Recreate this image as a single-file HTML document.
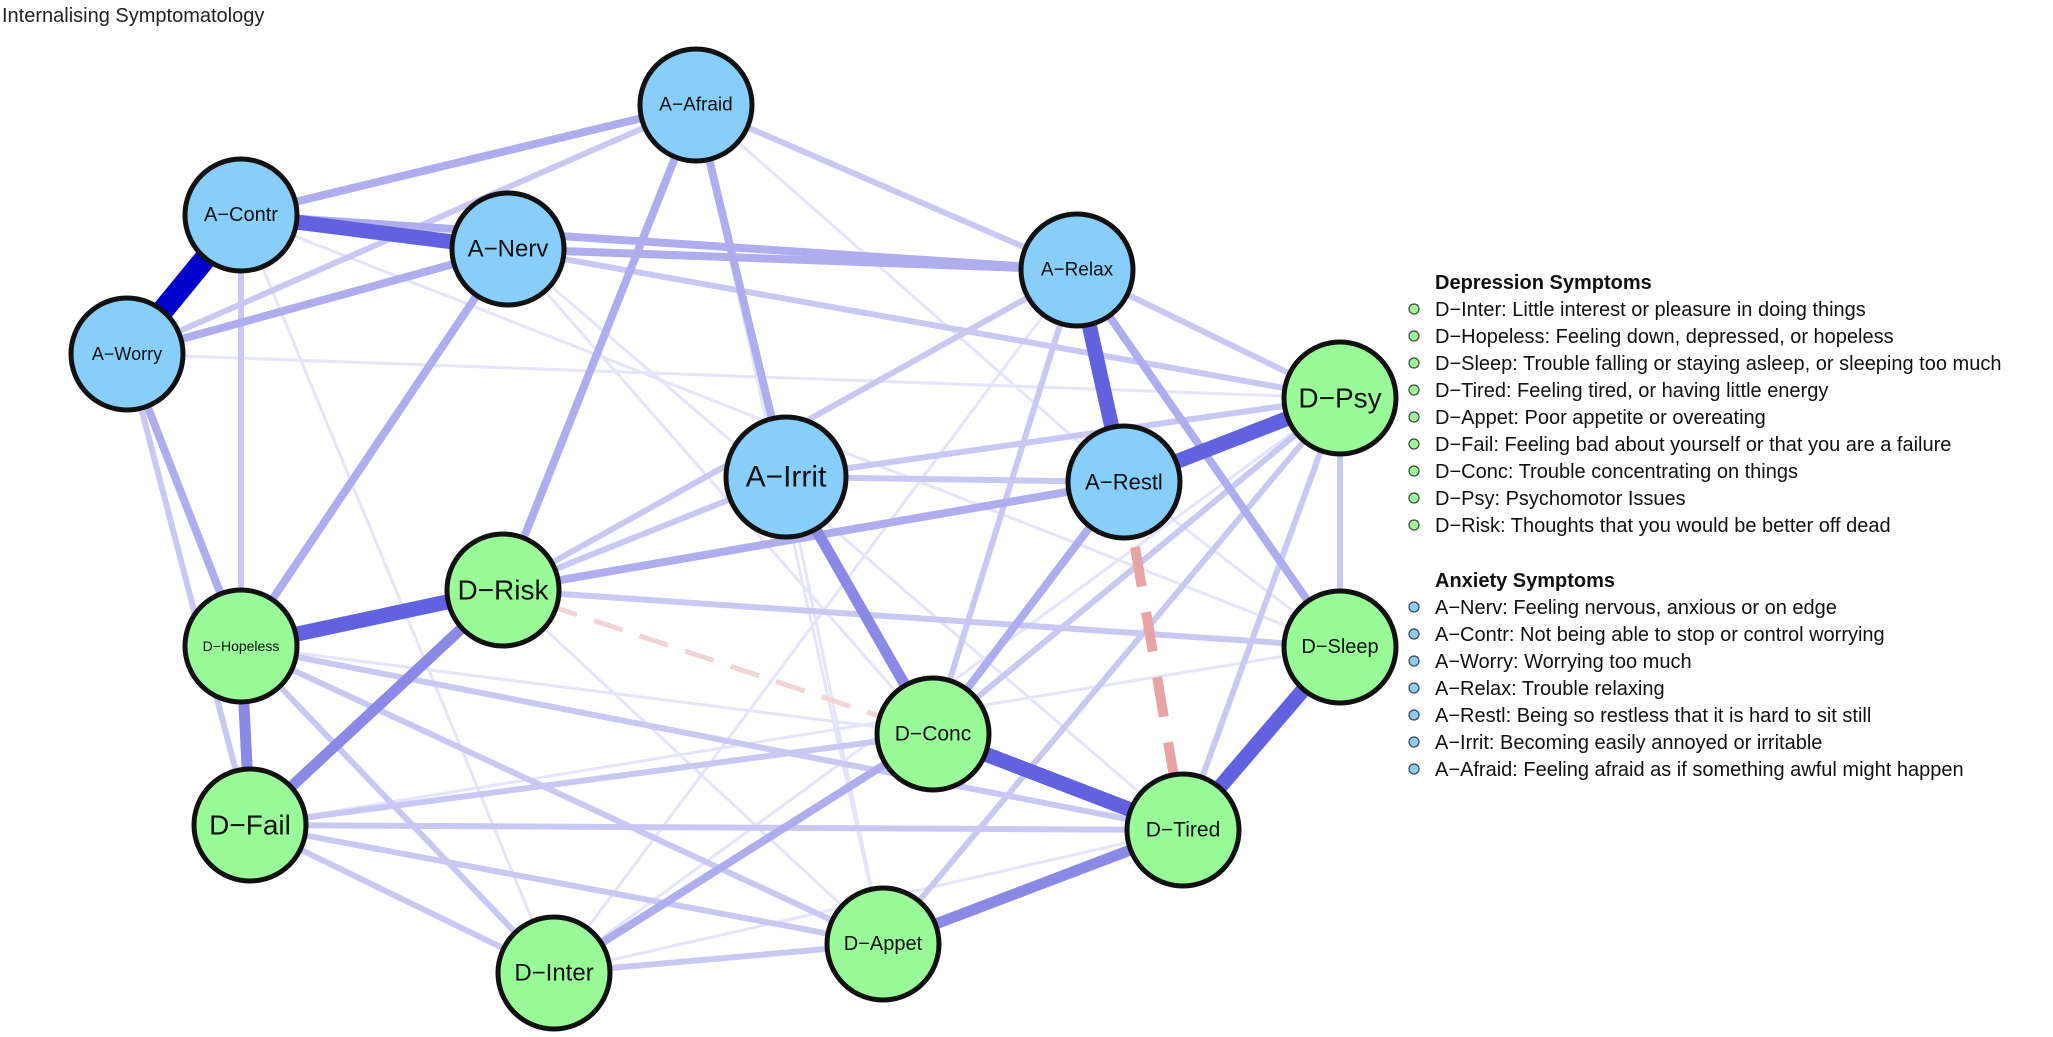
<!DOCTYPE html>
<html><head><meta charset="utf-8"><style>
body{margin:0;background:#fff;width:2053px;height:1032px;overflow:hidden}
svg text{font-family:"Liberation Sans",Arial,sans-serif}
</style></head><body>
<svg width="2053" height="1032" viewBox="0 0 2053 1032" xmlns="http://www.w3.org/2000/svg">
<text x="2" y="22" font-size="20" fill="#222">Internalising Symptomatology</text>
<g stroke-linecap="butt" fill="none">
<g stroke="#e4e4fa" stroke-width="3">
<line x1="241" y1="215" x2="1340" y2="647"/>
<line x1="127" y1="354" x2="1340" y2="398"/>
<line x1="508" y1="249" x2="933" y2="734"/>
<line x1="696" y1="105" x2="883" y2="944"/>
<line x1="241" y1="215" x2="554" y2="973"/>
<line x1="508" y1="249" x2="1183" y2="830"/>
<line x1="1077" y1="270" x2="554" y2="973"/>
<line x1="1340" y1="398" x2="554" y2="973"/>
<line x1="786" y1="477" x2="883" y2="944"/>
<line x1="250" y1="825" x2="1340" y2="647"/>
<line x1="503" y1="590" x2="883" y2="944"/>
<line x1="241" y1="646" x2="933" y2="734"/>
<line x1="1124" y1="482" x2="1340" y2="647"/>
<line x1="554" y1="973" x2="1183" y2="830"/>
<line x1="696" y1="105" x2="1124" y2="482"/>
</g>
<g stroke="#c8c8f2" stroke-width="6">
<line x1="696" y1="105" x2="1077" y2="270"/>
<line x1="696" y1="105" x2="127" y2="354"/>
<line x1="1077" y1="270" x2="1340" y2="398"/>
<line x1="508" y1="249" x2="1340" y2="398"/>
<line x1="241" y1="215" x2="241" y2="646"/>
<line x1="127" y1="354" x2="250" y2="825"/>
<line x1="786" y1="477" x2="1340" y2="398"/>
<line x1="786" y1="477" x2="1124" y2="482"/>
<line x1="503" y1="590" x2="1340" y2="647"/>
<line x1="1340" y1="398" x2="1340" y2="647"/>
<line x1="1340" y1="398" x2="933" y2="734"/>
<line x1="1340" y1="398" x2="883" y2="944"/>
<line x1="1077" y1="270" x2="933" y2="734"/>
<line x1="241" y1="646" x2="883" y2="944"/>
<line x1="250" y1="825" x2="883" y2="944"/>
<line x1="241" y1="646" x2="554" y2="973"/>
<line x1="250" y1="825" x2="554" y2="973"/>
<line x1="250" y1="825" x2="933" y2="734"/>
<line x1="241" y1="646" x2="1183" y2="830"/>
<line x1="554" y1="973" x2="883" y2="944"/>
<line x1="786" y1="477" x2="503" y2="590"/>
<line x1="1077" y1="270" x2="503" y2="590"/>
<line x1="250" y1="825" x2="1183" y2="830"/>
<line x1="1340" y1="398" x2="1183" y2="830"/>
</g>
<g stroke="#aeaeee" stroke-width="8">
<line x1="696" y1="105" x2="241" y2="215"/>
<line x1="127" y1="354" x2="508" y2="249"/>
<line x1="508" y1="249" x2="1077" y2="270"/>
<line x1="241" y1="215" x2="1077" y2="270"/>
<line x1="696" y1="105" x2="786" y2="477"/>
<line x1="696" y1="105" x2="503" y2="590"/>
<line x1="508" y1="249" x2="241" y2="646"/>
<line x1="127" y1="354" x2="241" y2="646"/>
<line x1="503" y1="590" x2="1124" y2="482"/>
<line x1="1077" y1="270" x2="1340" y2="647"/>
<line x1="1124" y1="482" x2="933" y2="734"/>
<line x1="786" y1="477" x2="933" y2="734"/>
<line x1="554" y1="973" x2="933" y2="734"/>
</g>
<line x1="503" y1="590" x2="933" y2="734" stroke="#f3d4d4" stroke-width="5" stroke-dasharray="30,18"/>
<line x1="1124" y1="482" x2="1183" y2="830" stroke="#e8a4a4" stroke-width="10" stroke-dasharray="40,26"/>
<g stroke="#8a8ae6" stroke-width="11">
<line x1="503" y1="590" x2="250" y2="825"/>
<line x1="241" y1="646" x2="250" y2="825"/>
<line x1="883" y1="944" x2="1183" y2="830"/>
<line x1="786" y1="477" x2="933" y2="734"/>
</g>
<g stroke="#6262e0" stroke-width="15">
<line x1="241" y1="215" x2="508" y2="249"/>
<line x1="1077" y1="270" x2="1124" y2="482"/>
<line x1="1124" y1="482" x2="1340" y2="398"/>
<line x1="1340" y1="647" x2="1183" y2="830"/>
<line x1="241" y1="646" x2="503" y2="590"/>
<line x1="933" y1="734" x2="1183" y2="830"/>
</g>
<line x1="241" y1="215" x2="127" y2="354" stroke="#0000cc" stroke-width="22"/>
</g>
<g stroke="#111" stroke-width="5">
<g fill="#87cefa">
<circle cx="696" cy="105" r="56"/><circle cx="241" cy="215" r="56"/><circle cx="508" cy="249" r="56"/>
<circle cx="127" cy="354" r="56"/><circle cx="1077" cy="270" r="56"/><circle cx="786" cy="477" r="60"/>
<circle cx="1124" cy="482" r="56"/>
</g>
<g fill="#98fb98">
<circle cx="1340" cy="398" r="56"/><circle cx="503" cy="590" r="56"/><circle cx="241" cy="646" r="56"/>
<circle cx="1340" cy="647" r="56"/><circle cx="933" cy="734" r="56"/><circle cx="250" cy="825" r="56"/>
<circle cx="1183" cy="830" r="56"/><circle cx="883" cy="944" r="56"/><circle cx="554" cy="973" r="56"/>
</g>
</g>
<g fill="#111" text-anchor="middle" dominant-baseline="central">
<text x="696" y="105" font-size="19">A−Afraid</text>
<text x="241" y="215" font-size="20">A−Contr</text>
<text x="508" y="249" font-size="24">A−Nerv</text>
<text x="127" y="354" font-size="18">A−Worry</text>
<text x="1077" y="270" font-size="19">A−Relax</text>
<text x="786" y="477" font-size="30">A−Irrit</text>
<text x="1124" y="482" font-size="22">A−Restl</text>
<text x="1340" y="398" font-size="28">D−Psy</text>
<text x="503" y="590" font-size="28">D−Risk</text>
<text x="241" y="646" font-size="14">D−Hopeless</text>
<text x="1340" y="647" font-size="20">D−Sleep</text>
<text x="933" y="734" font-size="21">D−Conc</text>
<text x="250" y="825" font-size="28">D−Fail</text>
<text x="1183" y="830" font-size="21">D−Tired</text>
<text x="883" y="944" font-size="20">D−Appet</text>
<text x="554" y="973" font-size="24">D−Inter</text>
</g>
<g font-size="20" fill="#111">
<text x="1435" y="289" font-weight="bold">Depression Symptoms</text>
<text x="1435" y="316">D−Inter: Little interest or pleasure in doing things</text>
<text x="1435" y="343">D−Hopeless: Feeling down, depressed, or hopeless</text>
<text x="1435" y="370">D−Sleep: Trouble falling or staying asleep, or sleeping too much</text>
<text x="1435" y="397">D−Tired: Feeling tired, or having little energy</text>
<text x="1435" y="424">D−Appet: Poor appetite or overeating</text>
<text x="1435" y="451">D−Fail: Feeling bad about yourself or that you are a failure</text>
<text x="1435" y="478">D−Conc: Trouble concentrating on things</text>
<text x="1435" y="505">D−Psy: Psychomotor Issues</text>
<text x="1435" y="532">D−Risk: Thoughts that you would be better off dead</text>
<text x="1435" y="587" font-weight="bold">Anxiety Symptoms</text>
<text x="1435" y="614">A−Nerv: Feeling nervous, anxious or on edge</text>
<text x="1435" y="641">A−Contr: Not being able to stop or control worrying</text>
<text x="1435" y="668">A−Worry: Worrying too much</text>
<text x="1435" y="695">A−Relax: Trouble relaxing</text>
<text x="1435" y="722">A−Restl: Being so restless that it is hard to sit still</text>
<text x="1435" y="749">A−Irrit: Becoming easily annoyed or irritable</text>
<text x="1435" y="776">A−Afraid: Feeling afraid as if something awful might happen</text>
</g>
<g stroke="#444" stroke-width="1.2">
<g fill="#98fb98">
<circle cx="1414" cy="309" r="5"/><circle cx="1414" cy="336" r="5"/><circle cx="1414" cy="363" r="5"/>
<circle cx="1414" cy="390" r="5"/><circle cx="1414" cy="417" r="5"/><circle cx="1414" cy="444" r="5"/>
<circle cx="1414" cy="471" r="5"/><circle cx="1414" cy="498" r="5"/><circle cx="1414" cy="525" r="5"/>
</g>
<g fill="#87cefa">
<circle cx="1414" cy="607" r="5"/><circle cx="1414" cy="634" r="5"/><circle cx="1414" cy="661" r="5"/>
<circle cx="1414" cy="688" r="5"/><circle cx="1414" cy="715" r="5"/><circle cx="1414" cy="742" r="5"/>
<circle cx="1414" cy="769" r="5"/>
</g>
</g>
</svg>
</body></html>
